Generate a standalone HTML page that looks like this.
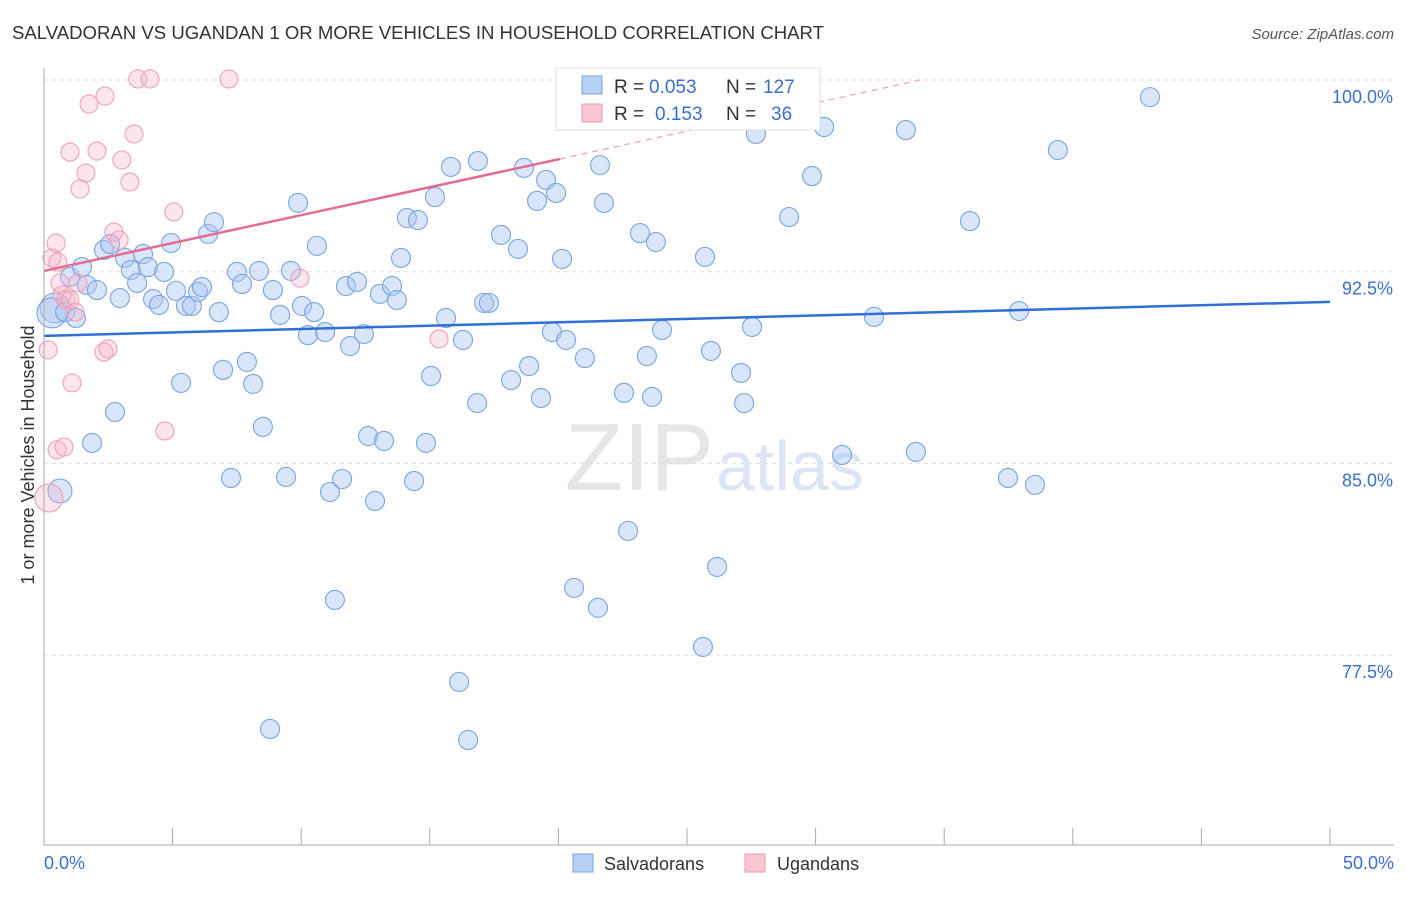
<!DOCTYPE html>
<html><head><meta charset="utf-8"><style>
body{margin:0;background:#fff;font-family:"Liberation Sans",sans-serif}
svg text{font-family:"Liberation Sans",sans-serif}
</style></head><body>
<svg id="c" width="1406" height="892" xmlns="http://www.w3.org/2000/svg">
<text x="12" y="39" font-size="18" fill="#333" textLength="812" lengthAdjust="spacingAndGlyphs">SALVADORAN VS UGANDAN 1 OR MORE VEHICLES IN HOUSEHOLD CORRELATION CHART</text>
<text x="1394" y="39" font-size="15" fill="#555" text-anchor="end" font-style="italic">Source: ZipAtlas.com</text>
<text x="714" y="490" font-size="96" fill="#e6e6e6" text-anchor="end" font-family="Liberation Serif">ZIP</text>
<text x="716" y="490" font-size="70" fill="#dbe5f5">atlas</text>
<g id="grid"></g><g id="pts"></g><g id="lines"></g>
<line x1="44" y1="68" x2="44" y2="845" stroke="#aaa"/>
<line x1="44" y1="845" x2="1394" y2="845" stroke="#aaa"/>
<text transform="translate(34,455) rotate(-90)" font-size="18" fill="#333" text-anchor="middle">1 or more Vehicles in Household</text>
<text x="44" y="869" font-size="18" fill="#3a6fd0">0.0%</text>
<text x="1394" y="869" font-size="18" fill="#3a6fd0" text-anchor="end">50.0%</text>
<g>
<rect x="556" y="68" width="264" height="62" fill="#fff" stroke="#ddd"/>
<rect x="582" y="76" width="20" height="18" fill="#b8d0f4" stroke="#7aa3e0"/>
<rect x="582" y="104" width="20" height="18" fill="#f9c6d4" stroke="#ee9ab3"/>
<text x="614" y="93" font-size="19" fill="#333">R =</text>
<text x="649" y="93" font-size="19" fill="#3a6fd0">0.053</text>
<text x="726" y="93" font-size="19" fill="#333">N =</text>
<text x="763" y="93" font-size="19" fill="#3a6fd0">127</text>
<text x="614" y="120" font-size="19" fill="#333">R =</text>
<text x="655" y="120" font-size="19" fill="#3a6fd0">0.153</text>
<text x="726" y="120" font-size="19" fill="#333">N =</text>
<text x="771" y="120" font-size="19" fill="#3a6fd0">36</text>
</g>
<g><rect x="573" y="854" width="20" height="18" fill="#b8d0f4" stroke="#7aa3e0"/><text x="604" y="870" font-size="18" fill="#333">Salvadorans</text></g>
<g><rect x="745" y="854" width="20" height="18" fill="#f9c6d4" stroke="#ee9ab3"/><text x="777" y="870" font-size="18" fill="#333">Ugandans</text></g>
</svg>
<script>
const yTicks=[100,92.5,85,77.5];
const yTickLabels=["100.0%","92.5%","85.0%","77.5%"];
const xTicks=[0,5,10,15,20,25,30,35,40,45,50];
const blueX=[0.43,0.31,0.62,0.82,1.01,1.24,1.48,1.67,2.06,1.87,2.33,2.57,2.76,2.95,3.15,3.38,3.62,3.85,4.04,4.24,4.47,4.67,4.94,5.13,5.33,5.52,5.75,5.99,6.14,6.38,6.61,6.80,6.96,7.27,7.50,7.70,7.89,8.13,8.36,8.51,8.79,8.90,9.18,9.41,9.60,9.88,10.03,10.26,10.50,10.61,10.93,11.12,11.31,11.59,11.74,11.90,12.17,12.44,12.60,12.87,13.06,13.22,13.53,13.72,13.88,14.11,14.39,14.54,14.85,15.05,15.20,15.63,15.82,16.14,16.29,16.49,16.84,16.87,17.11,17.30,17.77,18.16,18.43,18.66,18.86,19.17,19.32,19.52,19.75,19.91,20.14,20.30,20.61,21.03,21.54,21.62,21.77,22.55,22.71,23.17,23.44,23.64,23.79,24.03,25.62,25.70,25.93,26.17,27.10,27.22,27.53,27.68,28.97,29.86,30.33,31.03,32.27,33.51,33.90,36.00,37.48,37.91,38.53,39.42,43.00];
const blueY=[91.08,90.89,83.92,90.92,92.29,90.69,92.68,91.98,91.78,85.80,93.35,93.58,87.01,91.47,93.04,92.57,92.06,93.19,92.68,91.43,91.20,92.49,93.62,91.75,88.15,91.16,91.16,91.71,91.90,93.98,94.44,90.92,88.66,84.43,92.49,92.02,88.97,88.11,92.53,86.43,74.61,91.78,90.81,84.47,92.53,95.19,91.16,90.02,90.92,93.51,90.14,83.88,79.66,84.39,91.94,89.59,92.10,90.06,86.07,83.53,91.63,85.88,91.94,91.39,93.04,94.60,84.31,94.52,85.80,88.42,95.42,90.69,96.60,76.45,89.83,74.18,87.36,96.83,91.28,91.28,93.94,88.26,93.39,96.56,88.81,95.27,87.56,96.09,90.14,95.58,93.00,89.83,80.13,89.12,79.35,96.67,95.19,87.76,82.36,94.01,89.20,87.60,93.66,90.22,77.82,93.08,89.40,80.95,88.54,87.36,90.34,97.89,94.64,96.24,98.16,85.33,90.73,98.04,85.45,94.48,84.43,90.96,84.16,97.26,99.33];
const pinkX=[0.19,0.16,0.31,0.47,0.54,0.62,0.70,0.86,1.01,1.09,1.21,1.32,0.51,0.78,1.01,1.40,1.63,1.75,2.06,2.37,3.03,3.34,3.50,3.65,4.12,2.72,2.92,2.33,2.49,5.05,4.70,7.19,9.95,15.36];
const pinkY=[83.65,89.44,93.04,93.62,92.88,92.06,91.59,91.39,91.39,88.15,90.92,92.06,85.53,85.64,97.18,95.74,96.36,99.06,97.22,99.37,96.87,96.01,97.89,100.04,100.04,94.05,93.74,89.36,89.48,94.84,86.27,100.04,92.25,89.87];
const blueTrend=[89.99,91.32];
const pinkTrend=[92.53,96.91,100.0];
const pinkTrendX=[0,20.06,34.06];
const NS="http://www.w3.org/2000/svg";
const xs=v=>44+v*25.72, ys=v=>80+(100-v)*25.56;
function mk(t,a,p){const e=document.createElementNS(NS,t);for(const k in a)e.setAttribute(k,a[k]);p.appendChild(e);return e;}
const g=document.getElementById('grid');
yTicks.forEach((t,i)=>{
 const l=mk('line',{x1:44,x2:1394,y1:ys(t),y2:ys(t),stroke:'#ddd','stroke-dasharray':'4,4'},g);
 
 
 const tx=mk('text',{x:1393,y:ys(t)+23,'font-size':18,fill:'#3a6fd0','text-anchor':'end'},g);
 tx.textContent=yTickLabels[i];
 
 
});
xTicks.forEach(t=>{
 const l=mk('line',{x1:xs(t),x2:xs(t),y1:828,y2:845,stroke:'#aaa'},g);
 
 
});
const p=document.getElementById('pts');
blueX.forEach((x,i)=>{
 const r=(i<3)?(i==2?12:15):9.5;
 const c=mk('circle',{cx:xs(x),cy:ys(blueY[i]),r:r,fill:'rgba(170,200,242,0.45)',stroke:'#79a4e2','stroke-width':1.1},p);
 
 
});
pinkX.forEach((x,i)=>{
 const r=i==0?14:9;
 const c=mk('circle',{cx:xs(x),cy:ys(pinkY[i]),r:r,fill:'rgba(246,175,196,0.33)',stroke:'#eea0b8','stroke-width':1.1},p);
 
 
});
const L=document.getElementById('lines');
const b=mk('line',{x1:xs(0),y1:ys(blueTrend[0]),x2:xs(50),y2:ys(blueTrend[1]),stroke:'#2f6fd6','stroke-width':2.5},L);


const pk=mk('line',{x1:xs(pinkTrendX[0]),y1:ys(pinkTrend[0]),x2:xs(pinkTrendX[1]),y2:ys(pinkTrend[1]),stroke:'#e46b93','stroke-width':2.5},L);


const pd=mk('line',{x1:xs(pinkTrendX[1]),y1:ys(pinkTrend[1]),x2:xs(pinkTrendX[2]),y2:ys(pinkTrend[2]),stroke:'#eba0b8','stroke-width':1.2,'stroke-dasharray':'6,5'},L);


</script>
</body></html>
